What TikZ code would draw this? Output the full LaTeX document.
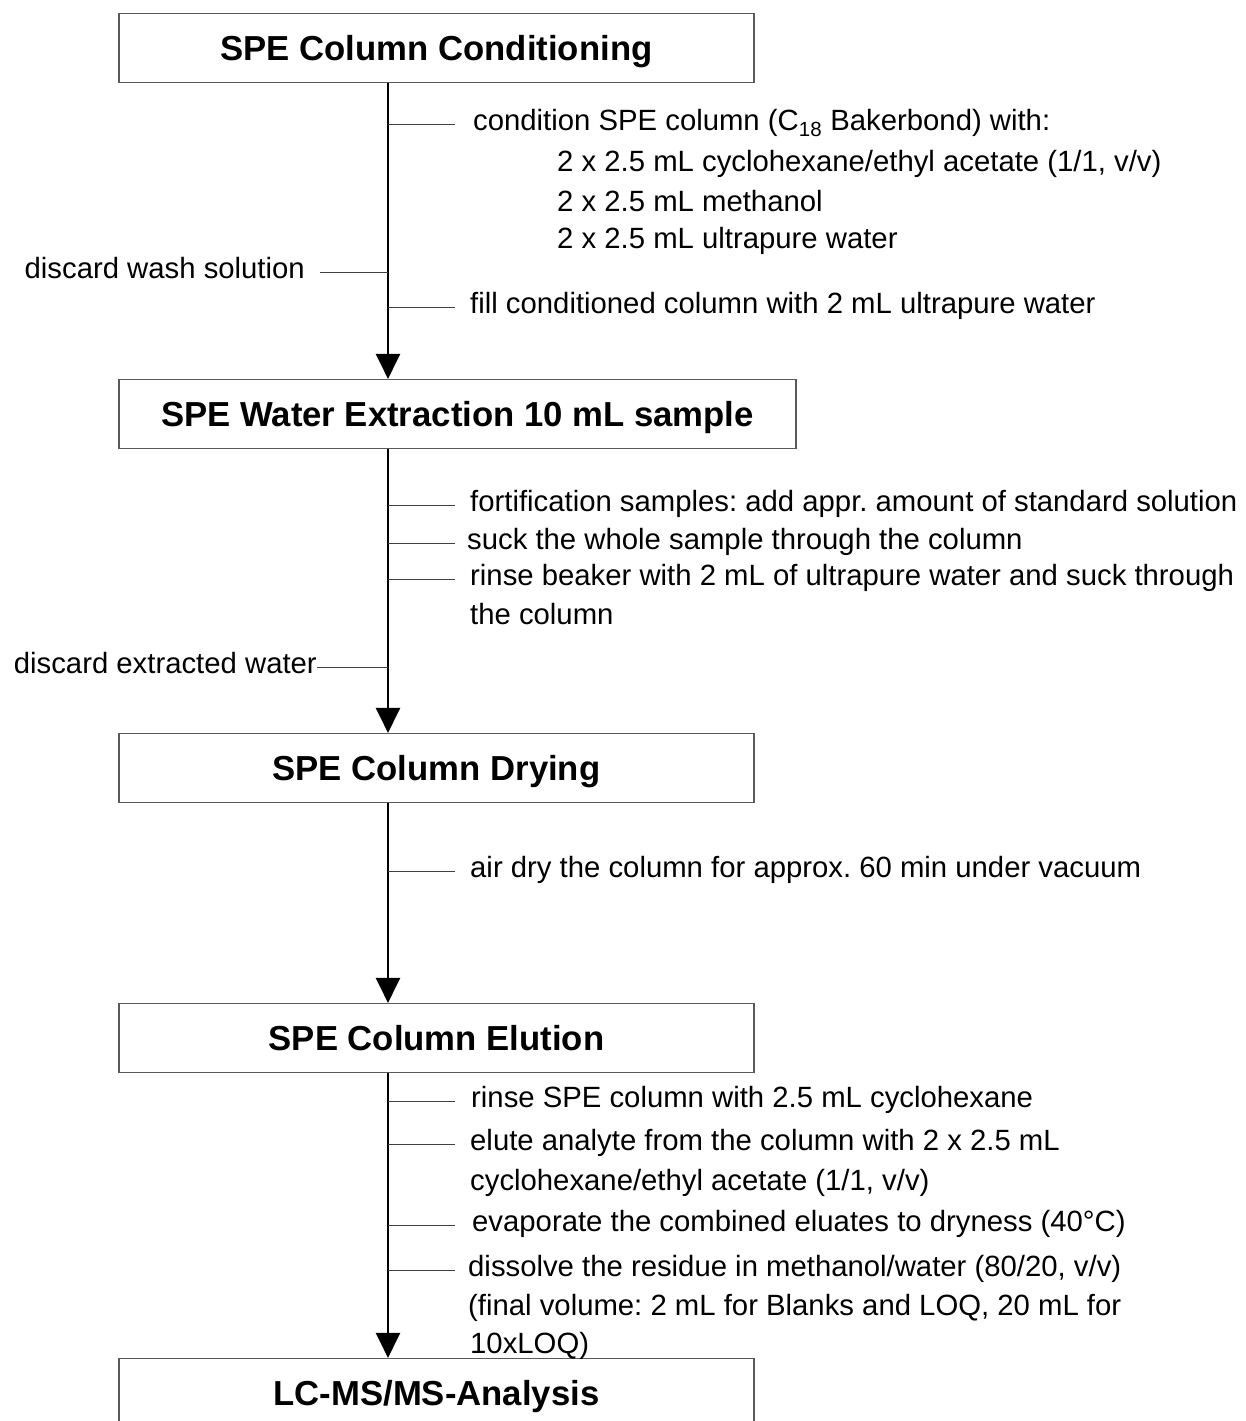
\documentclass[tikz,border=0pt]{standalone}
\usepackage{fontspec}
\setmainfont{Liberation Sans}
\usetikzlibrary{arrows.meta,positioning}
\frenchspacing

\begin{document}
\begin{tikzpicture}[x=1pt,y=-1pt,
	every node/.style={inner sep=0pt,font=\fontsize{29.3}{39}\selectfont,text height=21pt,text depth=7.5pt},
	stage/.style={draw=black!65,line width=1.2pt,minimum height=69pt,text height=24.8pt,text depth=0pt,font=\bfseries\fontsize{34.7}{40}\selectfont},
	note/.style={anchor=west},
	lnote/.style={anchor=east},
	flow/.style={line width=2.6pt,-{Triangle[width=24pt,length=25pt]}},
	tick/.style={draw=black!75,line width=0.9pt}]

	\useasboundingbox (0,0) rectangle (1245,1421);
	\coordinate (axis) at (388,0);

	% stages
	\node[stage,minimum width=635pt] (cond) at (436.5,48) {SPE Column Conditioning};
	\node[stage,minimum width=677pt] (extr) at (457.5,414) {SPE Water Extraction 10 mL sample};
	\node[stage,minimum width=635pt] (dry) at (436.5,768) {SPE Column Drying};
	\node[stage,minimum width=635pt] (elut) at (436.5,1038) {SPE Column Elution};
	\node[stage,minimum width=635pt] (lcms) at (436.5,1393) {LC-MS/MS-Analysis};

	\draw[flow] (cond.south -| axis) -- (extr.north -| axis);
	\draw[flow] (extr.south -| axis) -- (dry.north -| axis);
	\draw[flow] (dry.south -| axis) -- (elut.north -| axis);
	\draw[flow] (elut.south -| axis) -- (lcms.north -| axis);

	% conditioning
	\node[note] (cA) at (473,124) {condition SPE column (C\textsubscript{18} Bakerbond) with:};
	\node[note] (cA1) at (557,165) {2 x 2.5 mL cyclohexane/ethyl acetate (1/1, v/v)};
	\node[note] (cA2) at (557,205) {2 x 2.5 mL methanol};
	\node[note] (cA3) at (557,242) {2 x 2.5 mL ultrapure water};
	\node[lnote] (cW) at (305,272) {discard wash solution};
	\node[note] (cB) at (470,307) {fill conditioned column with 2 mL ultrapure water};

	\draw[tick] (cA.west -| axis) -- ([xshift=-18pt]cA.west);
	\draw[tick] ([xshift=15pt]cW.east) -- (cW.east -| axis);
	\draw[tick] (cB.west -| axis) -- ([xshift=-15pt]cB.west);

	% extraction
	\node[note] (eA) at (470,505) {fortification samples: add appr. amount of standard solution};
	\node[note] (eB) at (467,543) {suck the whole sample through the column};
	\node[note] (eC) at (470,579) {rinse beaker with 2 mL of ultrapure water and suck through};
	\node[note] (eC2) at (470,618) {the column};
	\node[lnote] (eW) at (317,667) {discard extracted water};

	\draw[tick] (eA.west -| axis) -- ([xshift=-15pt]eA.west);
	\draw[tick] (eB.west -| axis) -- ([xshift=-12pt]eB.west);
	\draw[tick] (eC.west -| axis) -- ([xshift=-15pt]eC.west);
	\draw[tick] (eW.east) -- (eW.east -| axis);

	% drying
	\node[note] (dA) at (470,871) {air dry the column for approx. 60 min under vacuum};
	\draw[tick] (dA.west -| axis) -- ([xshift=-15pt]dA.west);

	% elution
	\node[note] (lA) at (471,1101) {rinse SPE column with 2.5 mL cyclohexane};
	\node[note] (lB) at (470,1144) {elute analyte from the column with 2 x 2.5 mL};
	\node[note] (lB2) at (470,1184) {cyclohexane/ethyl acetate (1/1, v/v)};
	\node[note] (lC) at (472,1225) {evaporate the combined eluates to dryness (40°C)};
	\node[note] (lD) at (468,1270) {dissolve the residue in methanol/water (80/20, v/v)};
	\node[note] (lD2) at (468,1309) {(final volume: 2 mL for Blanks and LOQ, 20 mL for};
	\node[note] (lD3) at (470,1347) {10xLOQ)};

	\draw[tick] (lA.west -| axis) -- ([xshift=-16pt]lA.west);
	\draw[tick] (lB.west -| axis) -- ([xshift=-15pt]lB.west);
	\draw[tick] (lC.west -| axis) -- ([xshift=-17pt]lC.west);
	\draw[tick] (lD.west -| axis) -- ([xshift=-13pt]lD.west);

\end{tikzpicture}
\end{document}
